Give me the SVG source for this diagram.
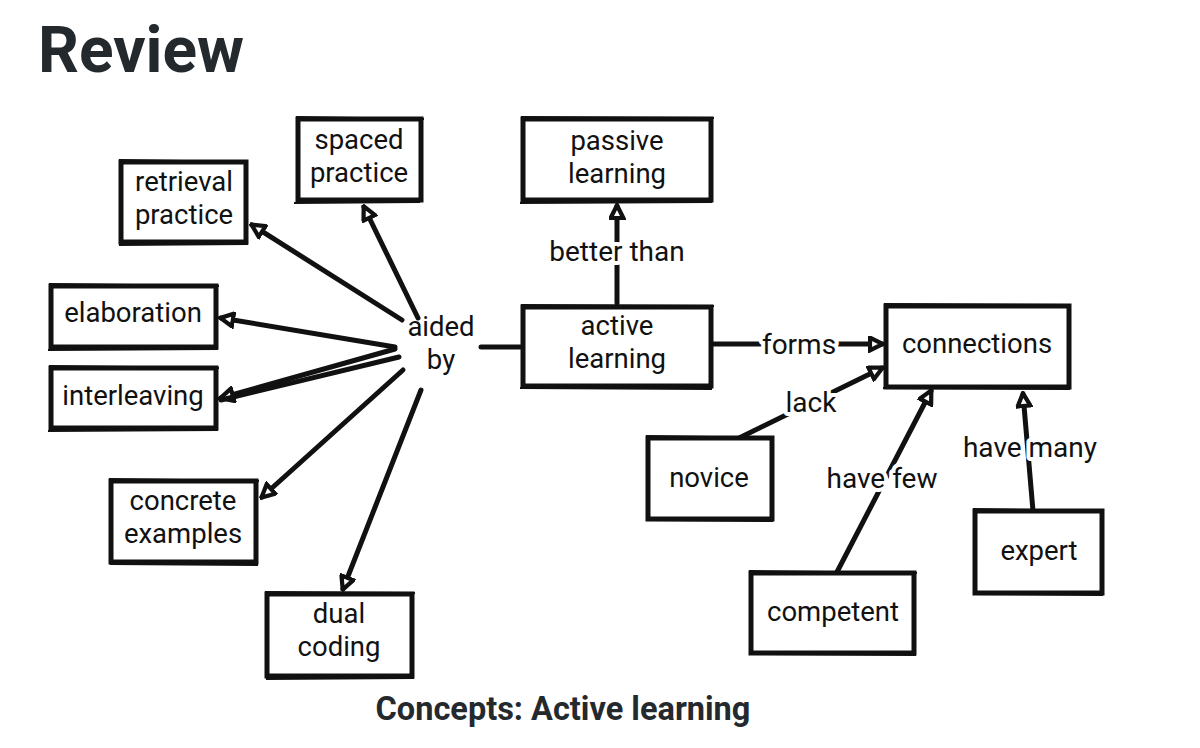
<svg xmlns="http://www.w3.org/2000/svg" width="1200" height="748" viewBox="0 0 1200 748">
<style>
.box{fill:#fff;stroke:#111;stroke-width:5;stroke-linejoin:miter}
.sk{fill:none;stroke:#111;stroke-width:2}
.t{font-family:Roboto,"Liberation Sans",sans-serif;font-size:27.5px;fill:#111;text-anchor:middle}
.lbl{font-family:Roboto,"Liberation Sans",sans-serif;font-size:28px;fill:#111;text-anchor:middle;paint-order:stroke;stroke:#fff;stroke-width:8px;stroke-linejoin:round}
.c{stroke:#111;stroke-width:5;fill:none;stroke-linecap:round}
.a{marker-end:url(#arr)}
.h{font-family:Roboto,"Liberation Sans",sans-serif;font-weight:bold;fill:#24292e}
</style>
<defs>
<marker id="arr" viewBox="0 0 12 12" refX="10" refY="6" markerWidth="3.4" markerHeight="3.4" orient="auto" markerUnits="strokeWidth">
<path d="M1.5,1.5 L10.5,6 L1.5,10.5 Z" fill="#fff" stroke="#111" stroke-width="3" stroke-linejoin="miter"/>
</marker>
</defs>
<rect width="1200" height="748" fill="#fff"/>
<text class="h" x="38" y="72" font-size="64">Review</text>
<text class="h" x="563" y="720" font-size="32.5" text-anchor="middle">Concepts: Active learning</text>

<g id="connectors">
<line class="c a" x1="418" y1="318" x2="364" y2="207"/>
<line class="c a" x1="402" y1="320" x2="252" y2="225"/>
<line class="c a" x1="395" y1="347" x2="221" y2="318"/>
<line class="c a" x1="395" y1="349" x2="221" y2="398"/>
<line class="c" x1="399" y1="357" x2="221" y2="400"/>
<line class="c a" x1="403" y1="370" x2="262" y2="497"/>
<line class="c a" x1="421" y1="390" x2="343" y2="589"/>
<line class="c" x1="481" y1="347" x2="522" y2="347"/>
<line class="c a" x1="617" y1="303" x2="617" y2="206"/>
<line class="c a" x1="712" y1="344" x2="882" y2="344"/>
<line class="c a" x1="735" y1="440" x2="882" y2="368"/>
<line class="c a" x1="837" y1="572" x2="931" y2="391"/>
<line class="c a" x1="1033" y1="511" x2="1023" y2="394"/>
<text class="lbl" x="617" y="261">better than</text>
<text class="lbl" x="799" y="354">forms</text>
<text class="lbl" x="811" y="412">lack</text>
<text class="lbl" x="882" y="488">have few</text>
<text class="lbl" x="1030" y="457">have many</text>
</g>

<g id="spaced-practice">
<rect class="box" x="298" y="119" width="123" height="81"/>
<path class="sk" d="M296,117 L424,119 M420,202 L294,203"/>
<text class="t" x="359" y="149">spaced<tspan x="359" dy="32.5">practice</tspan></text>
</g>
<g id="retrieval-practice">
<rect class="box" x="121" y="162" width="125" height="80"/>
<path class="sk" d="M119,160 L248,162 M248,244 L119,245"/>
<text class="t" x="184" y="191">retrieval<tspan x="184" dy="32.5">practice</tspan></text>
</g>
<g id="passive-learning">
<rect class="box" x="523" y="119" width="188" height="81"/>
<path class="sk" d="M521,117 L714,118 M712,202 L520,203"/>
<text class="t" x="617" y="150">passive<tspan x="617" dy="32.5">learning</tspan></text>
</g>
<g id="elaboration">
<rect class="box" x="51" y="286" width="165" height="61"/>
<path class="sk" d="M49,284 L219,286 M218,349 L48,350"/>
<text class="t" x="133" y="322">elaboration</text>
</g>
<g id="interleaving">
<rect class="box" x="51" y="368" width="165" height="60"/>
<path class="sk" d="M49,366 L219,368 M218,430 L48,431"/>
<text class="t" x="133" y="405">interleaving</text>
</g>
<g id="aided-by">
<text class="t" x="441" y="336">aided<tspan x="441" dy="32.5">by</tspan></text>
</g>
<g id="active-learning">
<rect class="box" x="523" y="307" width="188" height="79"/>
<path class="sk" d="M521,305 L714,306 M712,389 L520,388"/>
<text class="t" x="617" y="335">active<tspan x="617" dy="32.5">learning</tspan></text>
</g>
<g id="connections">
<rect class="box" x="886" y="306" width="183" height="81"/>
<path class="sk" d="M884,304 L1071,305 M1070,389 L883,388"/>
<text class="t" x="977" y="353">connections</text>
</g>
<g id="concrete-examples">
<rect class="box" x="111" y="481" width="145" height="81"/>
<path class="sk" d="M109,479 L259,481 M258,565 L110,564"/>
<text class="t" x="183" y="510">concrete<tspan x="183" dy="32.5">examples</tspan></text>
</g>
<g id="dual-coding">
<rect class="box" x="267" y="594" width="145" height="82"/>
<path class="sk" d="M265,592 L415,593 M414,678 L266,679"/>
<text class="t" x="339" y="623">dual<tspan x="339" dy="32.5">coding</tspan></text>
</g>
<g id="novice">
<rect class="box" x="648" y="438" width="124" height="81"/>
<path class="sk" d="M646,436 L774,438 M773,521 L647,520"/>
<text class="t" x="709" y="487">novice</text>
</g>
<g id="competent">
<rect class="box" x="751" y="573" width="163" height="80"/>
<path class="sk" d="M749,571 L917,573 M916,655 L750,654"/>
<text class="t" x="833" y="621">competent</text>
</g>
<g id="expert">
<rect class="box" x="975" y="511" width="127" height="82"/>
<path class="sk" d="M973,509 L1104,511 M1103,595 L974,594"/>
<text class="t" x="1039" y="560">expert</text>
</g>
</svg>
